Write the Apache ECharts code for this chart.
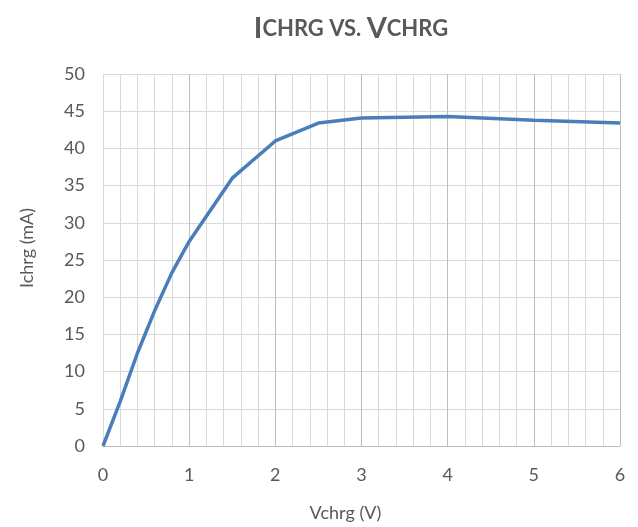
<!DOCTYPE html>
<html>
<head>
<meta charset="utf-8">
<script src="https://cdn.jsdelivr.net/npm/echarts@6/dist/echarts.min.js"></script>
<style>
  html, body { margin: 0; padding: 0; background: #fff; }
  #chart { width: 638px; height: 527px; }
</style>
</head>
<body>
<div id="chart"></div>
<script>
// charge voltage (V) and charge current (mA)
var vchrg = [0, 0.2, 0.4, 0.6, 0.8, 1, 1.5, 2, 2.5, 3, 4, 5, 6];
var ichrg = [0, 6, 12.5, 18.2, 23.3, 27.5, 36, 41, 43.4, 44.1, 44.3, 43.8, 43.4];

var points = [];
for (var i = 0; i < vchrg.length; i++) {
	points.push([vchrg[i], ichrg[i]]);
}

var font = 'Lato, "Open Sans", sans-serif';
var myChart = echarts.init(document.getElementById('chart'));
var option = {
	animation: false,
	title: {
		text: '{big|I}{small|CHRG VS. }{big|V}{small|CHRG}',
		left: 346,
		textAlign: 'center',
		top: 9,
		textStyle: {
			rich: {
				big: { fontFamily: font, fontWeight: 'bold', fontSize: 29, color: '#595959' },
				small: { fontFamily: font, fontWeight: 'bold', fontSize: 22, color: '#595959' }
			}
		}
	},
	grid: { left: 103, right: 18, top: 74, bottom: 80 },
	xAxis: {
		type: 'value',
		min: 0, max: 6, interval: 1,
		name: 'Vchrg (V)',
		nameLocation: 'middle',
		nameGap: 58,
		// excel centres this title on the chart, not the plot
		nameTextStyle: { fontFamily: font, fontSize: 18, color: '#595959', padding: [0, 32, 0, 0] },
		axisLine: { show: true, lineStyle: { color: '#bfbfbf', width: 1 } },
		axisTick: { show: false },
		axisLabel: { margin: 20, fontFamily: font, fontSize: 18, color: '#595959' },
		splitLine: { show: true, lineStyle: { color: '#bfbfbf', width: 1 } },
		minorTick: { show: false, splitNumber: 5 },
		minorSplitLine: { show: true, lineStyle: { color: '#d9d9d9', width: 1 } }
	},
	yAxis: {
		type: 'value',
		min: 0, max: 50, interval: 5,
		name: 'Ichrg (mA)',
		nameLocation: 'middle',
		nameGap: 67,
		nameTextStyle: { fontFamily: font, fontSize: 18, color: '#595959', padding: [0, 0, 0, 24] },
		axisLine: { show: true, lineStyle: { color: '#d9d9d9', width: 1 } },
		axisTick: { show: false },
		axisLabel: { margin: 18, fontFamily: font, fontSize: 18, color: '#595959' },
		splitLine: { show: true, lineStyle: { color: '#d9d9d9', width: 1 } }
	},
	series: [{
		type: 'line',
		data: points,
		showSymbol: false,
		lineStyle: { color: '#4a7ebb', width: 3.5 },
		itemStyle: { color: '#4a7ebb' }
	}]
};
myChart.setOption(option);
</script>
</body>
</html>
